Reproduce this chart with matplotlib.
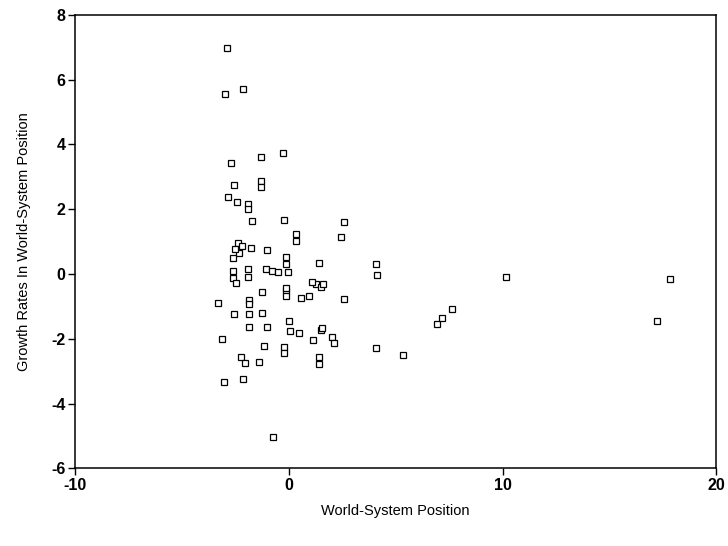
import matplotlib
matplotlib.use("Agg")
import matplotlib.pyplot as plt

# --- data ---
world_pos = [-2.90, -2.14, -2.98, -0.29, -1.31, -2.71, -1.31, -1.31, -2.56, -2.86,
             -2.40, -1.93, -1.93, -1.70, -0.22, 0.33, 0.33, 2.58, 2.43, -2.38,
             -2.20, -1.78, -2.34, -2.62, -2.52, -1.03, -0.14, -0.14, 1.40, -1.07,
             -0.79, -0.51, -0.05, -1.92, -2.62, -2.62, -1.92, 4.07, 4.14, -2.48,
             -1.23, -0.14, -0.14, 0.56, 0.95, 1.26, 1.50, 1.07, 2.58, -3.33,
             -1.86, -1.86, -0.14, 1.59, -2.56, -1.86, -1.23, -1.86, -1.03, 0.01,
             0.05, 0.48, 1.50, 1.57, 1.11, 2.04, 2.12, -3.10, 6.95, 7.18,
             7.65, 17.23, -1.15, -0.22, -0.22, 1.42, 1.42, 4.07, 5.36, -2.24,
             -2.06, -1.39, -2.16, -3.02, -0.76, 10.14, 17.85]
growth = [6.96, 5.72, 5.54, 3.74, 3.62, 3.41, 2.86, 2.68, 2.74, 2.37,
          2.22, 2.15, 2.02, 1.65, 1.67, 1.24, 1.03, 1.60, 1.13, 0.96,
          0.87, 0.81, 0.65, 0.50, 0.78, 0.75, 0.53, 0.31, 0.34, 0.16,
          0.09, 0.06, 0.06, 0.16, 0.09, -0.12, -0.09, 0.32, -0.03, -0.27,
          -0.56, -0.53, -0.68, -0.73, -0.68, -0.30, -0.39, -0.25, -0.78, -0.89,
          -0.79, -0.92, -0.43, -0.31, -1.23, -1.23, -1.21, -1.62, -1.62, -1.46,
          -1.77, -1.82, -1.72, -1.67, -2.05, -1.93, -2.14, -2.00, -1.55, -1.36,
          -1.07, -1.46, -2.21, -2.26, -2.43, -2.55, -2.77, -2.27, -2.50, -2.55,
          -2.74, -2.72, -3.23, -3.34, -5.04, -0.09, -0.16]

x_ticks = [-10, 0, 10, 20]
y_ticks = [-6, -4, -2, 0, 2, 4, 6, 8]

plt.rcParams['font.family'] = ['Liberation Sans', 'DejaVu Sans']
plt.rcParams['axes.unicode_minus'] = False

fig = plt.figure(figsize=(7.28, 5.46), dpi=100)
ax = fig.add_axes([0.103, 0.142, 0.881, 0.831])

ax.plot(world_pos, growth, linestyle='none', marker='s', markersize=4.0,
        markerfacecolor='white', markeredgecolor='black', markeredgewidth=0.9)

ax.set_xlim(-10, 20)
ax.set_ylim(-6, 8)
ax.set_xticks(x_ticks)
ax.set_yticks(y_ticks)
ax.tick_params(direction='out', length=5, width=1, labelsize=11.5, pad=2)
for lab in ax.get_xticklabels() + ax.get_yticklabels():
    lab.set_fontweight('bold')
for sp in ax.spines.values():
    sp.set_linewidth(1.1)

ax.set_xlabel('World-System Position', fontsize=10.5, labelpad=8)
ax.set_ylabel('Growth Rates In World-System Position', fontsize=10.5, labelpad=14)

fig.savefig('out.png', dpi=100)
